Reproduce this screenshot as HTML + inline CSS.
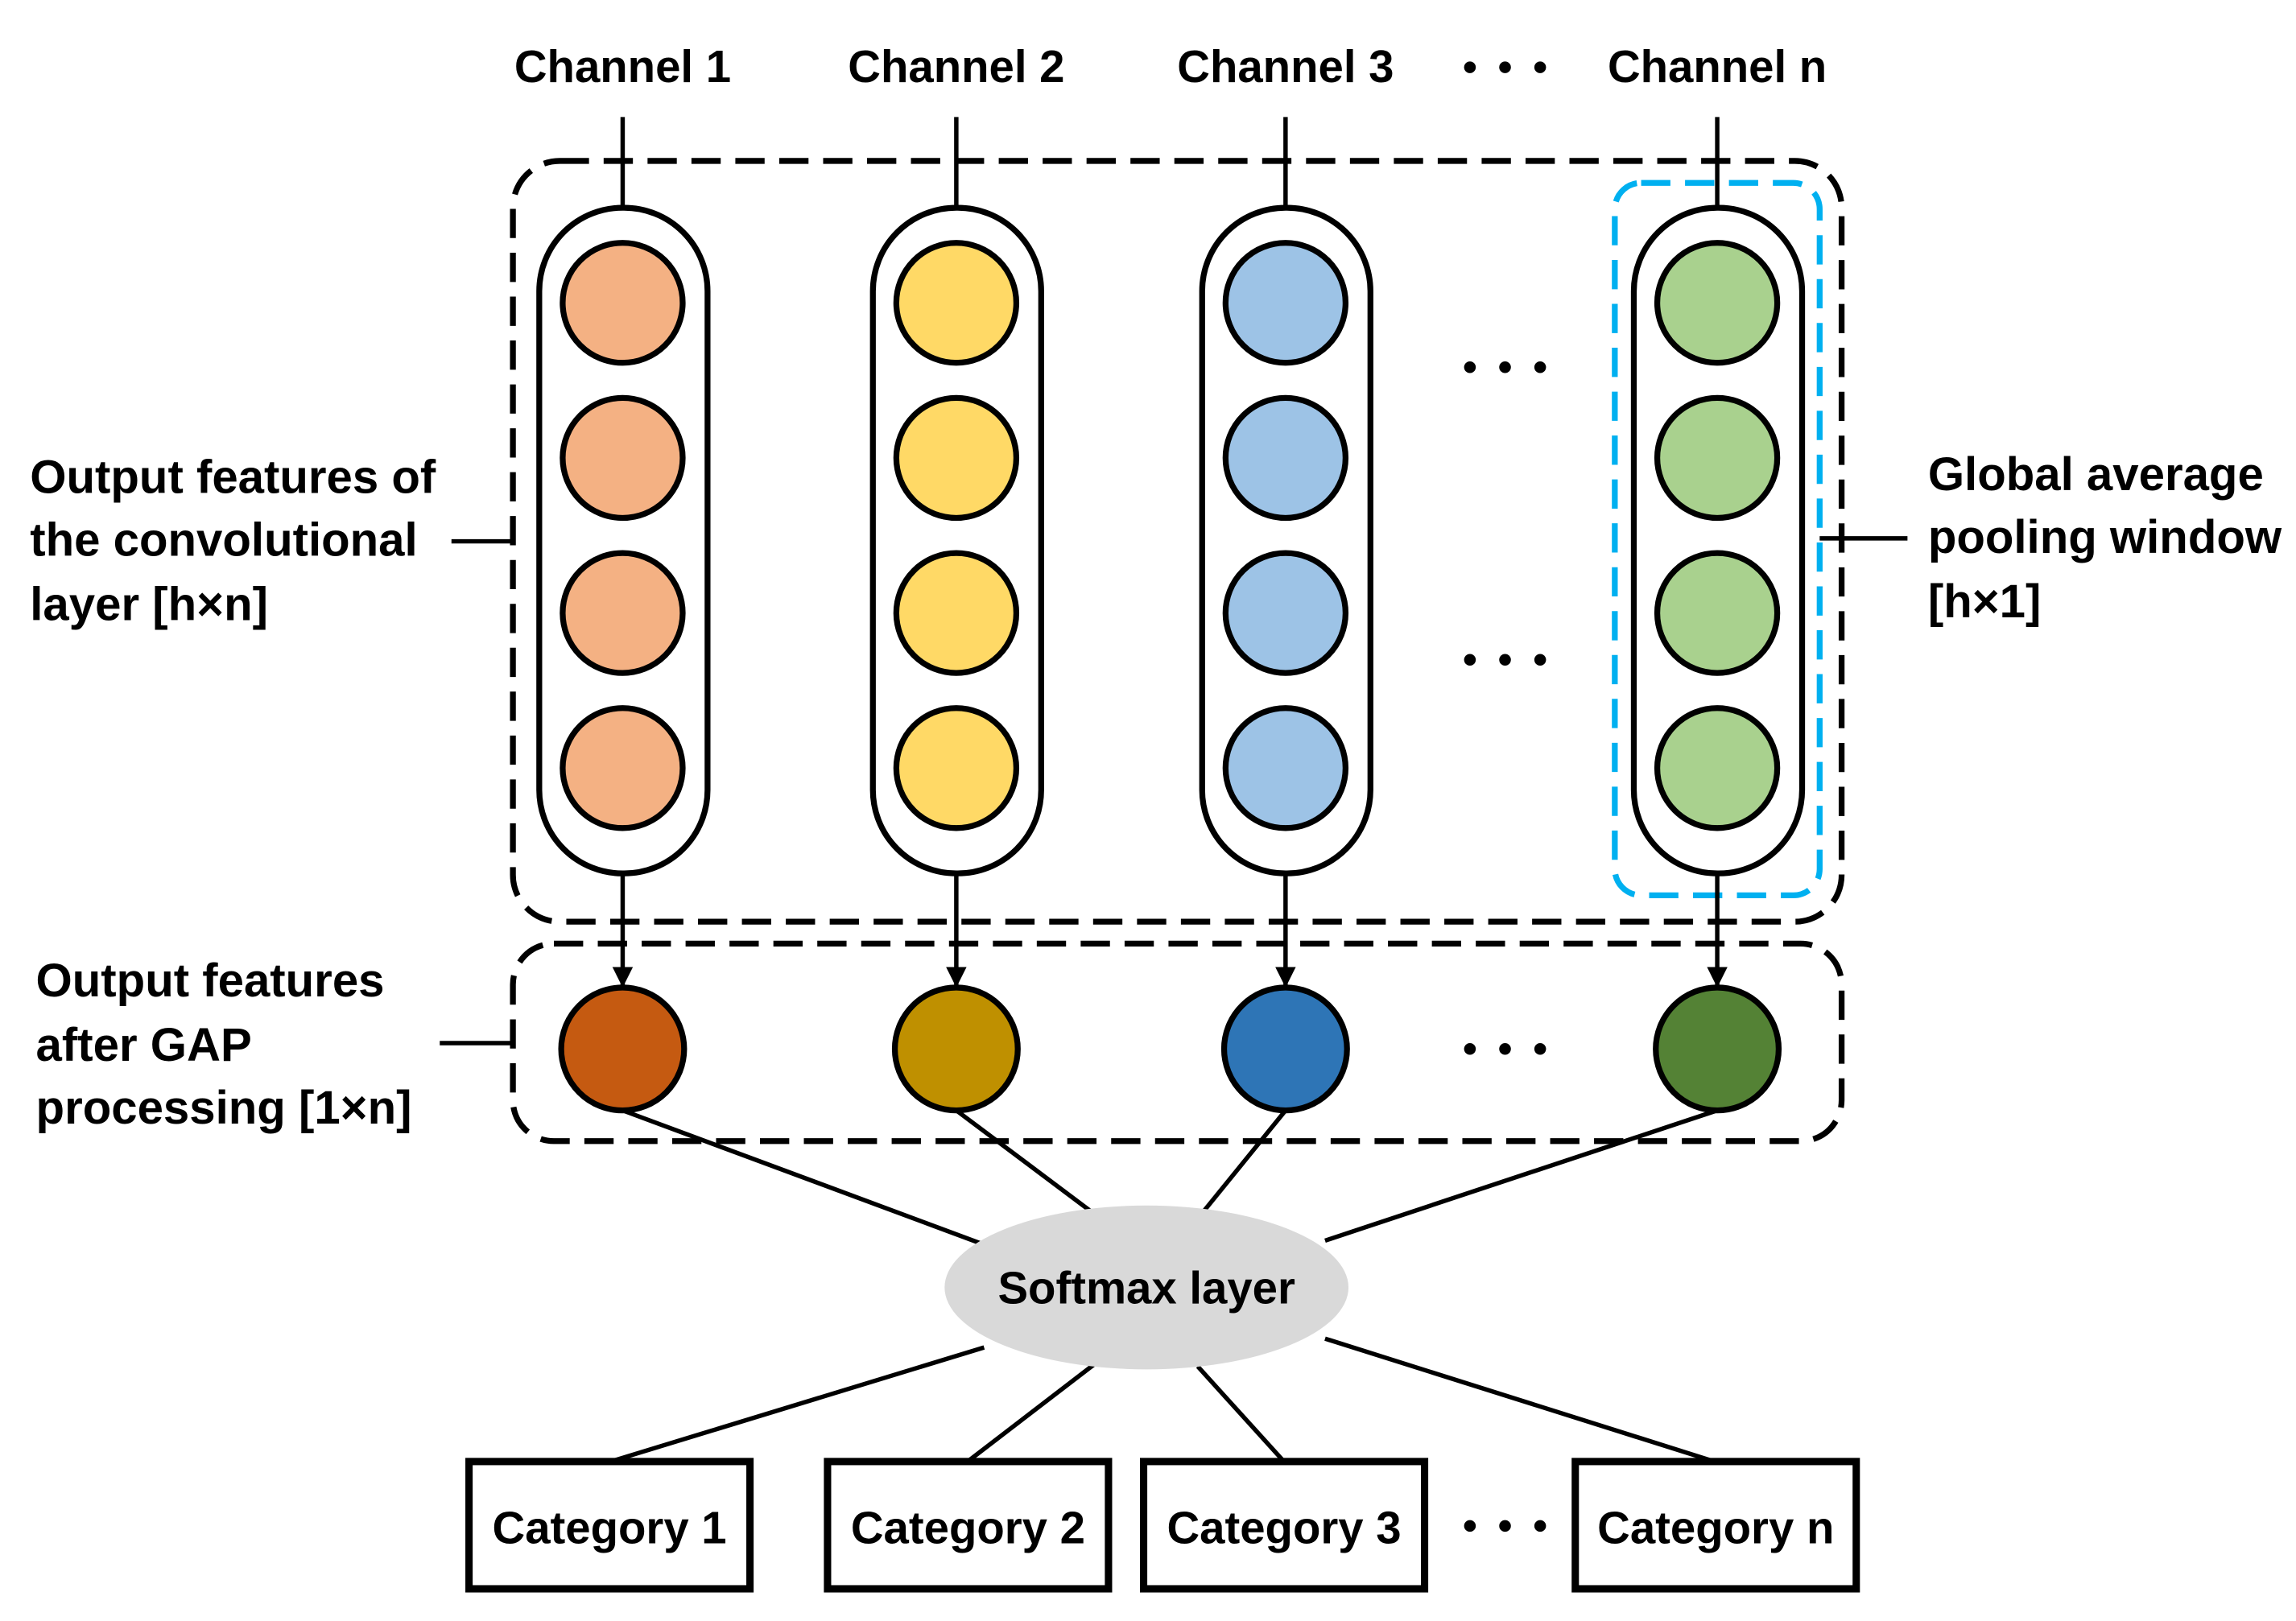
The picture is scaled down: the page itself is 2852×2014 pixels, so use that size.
<!DOCTYPE html>
<html><head><meta charset="utf-8"><style>
html,body{margin:0;padding:0;background:#fff;}
svg{display:block;}
text{font-family:"Liberation Sans",sans-serif;font-weight:bold;fill:#000;}
</style></head><body>
<svg width="2852" height="2014" viewBox="0 0 1568 1108" xmlns="http://www.w3.org/2000/svg">
<defs>
<marker id="ah" markerWidth="14" markerHeight="14" refX="13" refY="7" orient="auto" markerUnits="userSpaceOnUse" viewBox="0 0 14 14">
<path d="M0,0 L14,7 L0,14 z" fill="#000"/>
</marker>
</defs>
<g font-size="31" text-anchor="middle">
<text x="425" y="56">Channel 1</text>
<text x="653" y="56">Channel 2</text>
<text x="878" y="56">Channel 3</text>
<text x="1173" y="56">Channel n</text>
</g>
<g fill="#000">
<circle cx="1004" cy="46" r="4"/><circle cx="1028" cy="46" r="4"/><circle cx="1052" cy="46" r="4"/>
<circle cx="1004" cy="251" r="4"/><circle cx="1028" cy="251" r="4"/><circle cx="1052" cy="251" r="4"/>
<circle cx="1004" cy="451" r="4"/><circle cx="1028" cy="451" r="4"/><circle cx="1052" cy="451" r="4"/>
<circle cx="1004" cy="717" r="4"/><circle cx="1028" cy="717" r="4"/><circle cx="1052" cy="717" r="4"/>
<circle cx="1004" cy="1043" r="4"/><circle cx="1028" cy="1043" r="4"/><circle cx="1052" cy="1043" r="4"/>
</g>
<g stroke="#000" stroke-width="3">
<line x1="425" y1="80" x2="425" y2="142"/>
<line x1="653" y1="80" x2="653" y2="142"/>
<line x1="878" y1="80" x2="878" y2="142"/>
<line x1="1173" y1="80" x2="1173" y2="142"/>
</g>
<rect x="350" y="110" width="908" height="520" rx="32" fill="none" stroke="#000" stroke-width="4" stroke-dasharray="20 10"/>
<rect x="350" y="645" width="908" height="135" rx="28" fill="none" stroke="#000" stroke-width="4" stroke-dasharray="20 10"/>
<rect x="1103" y="125" width="140" height="487" rx="18" fill="none" stroke="#00B0F0" stroke-width="4" stroke-dasharray="20 10"/>
<g fill="#fff" stroke="#000" stroke-width="4">
<rect x="368" y="142" width="115" height="455" rx="57"/>
<rect x="596" y="142" width="115" height="455" rx="57"/>
<rect x="821" y="142" width="115" height="455" rx="57"/>
<rect x="1116" y="142" width="115" height="455" rx="57"/>
</g>
<g stroke="#000" stroke-width="4">
<g fill="#F4B183"><circle cx="425" cy="207" r="41"/><circle cx="425" cy="313" r="41"/><circle cx="425" cy="419" r="41"/><circle cx="425" cy="525" r="41"/></g>
<g fill="#FFD966"><circle cx="653" cy="207" r="41"/><circle cx="653" cy="313" r="41"/><circle cx="653" cy="419" r="41"/><circle cx="653" cy="525" r="41"/></g>
<g fill="#9DC3E6"><circle cx="878" cy="207" r="41"/><circle cx="878" cy="313" r="41"/><circle cx="878" cy="419" r="41"/><circle cx="878" cy="525" r="41"/></g>
<g fill="#A9D18E"><circle cx="1173" cy="207" r="41"/><circle cx="1173" cy="313" r="41"/><circle cx="1173" cy="419" r="41"/><circle cx="1173" cy="525" r="41"/></g>
</g>
<g stroke="#000" stroke-width="3" marker-end="url(#ah)">
<line x1="425" y1="597" x2="425" y2="674"/>
<line x1="653" y1="597" x2="653" y2="674"/>
<line x1="878" y1="597" x2="878" y2="674"/>
<line x1="1173" y1="597" x2="1173" y2="674"/>
</g>
<g stroke="#000" stroke-width="3">
<line x1="425" y1="759" x2="670" y2="850"/>
<line x1="653" y1="759" x2="745" y2="828"/>
<line x1="878" y1="759" x2="822" y2="828"/>
<line x1="1173" y1="759" x2="905" y2="848"/>
<line x1="672" y1="921" x2="420" y2="998"/>
<line x1="748" y1="932" x2="662" y2="998"/>
<line x1="818" y1="934" x2="876" y2="998"/>
<line x1="905" y1="915" x2="1168" y2="998"/>
<line x1="308" y1="370" x2="350" y2="370"/>
<line x1="300" y1="713" x2="350" y2="713"/>
<line x1="1243" y1="368" x2="1303" y2="368"/>
</g>
<g stroke="#000" stroke-width="4">
<circle cx="425" cy="717" r="42" fill="#C55A11"/>
<circle cx="653" cy="717" r="42" fill="#BF9000"/>
<circle cx="878" cy="717" r="42" fill="#2E75B6"/>
<circle cx="1173" cy="717" r="42" fill="#548235"/>
</g>
<ellipse cx="783" cy="880" rx="138" ry="56" fill="#D9D9D9"/>
<text x="783" y="891" font-size="31" text-anchor="middle">Softmax layer</text>
<g fill="#fff" stroke="#000" stroke-width="5">
<rect x="320" y="999" width="192" height="87"/>
<rect x="565" y="999" width="192" height="87"/>
<rect x="781" y="999" width="192" height="87"/>
<rect x="1076" y="999" width="192" height="87"/>
</g>
<g font-size="31" text-anchor="middle">
<text x="416" y="1055">Category 1</text>
<text x="661" y="1055">Category 2</text>
<text x="877" y="1055">Category 3</text>
<text x="1172" y="1055">Category n</text>
</g>
<g font-size="32">
<text x="20" y="337">Output features of</text>
<text x="20" y="380">the convolutional</text>
<text x="20" y="424">layer [h×n]</text>
<text x="24" y="681">Output features</text>
<text x="24" y="725">after GAP</text>
<text x="24" y="768">processing [1×n]</text>
<text x="1317" y="335">Global average</text>
<text x="1317" y="378">pooling window</text>
<text x="1317" y="422">[h×1]</text>
</g>
</svg>
</body></html>
